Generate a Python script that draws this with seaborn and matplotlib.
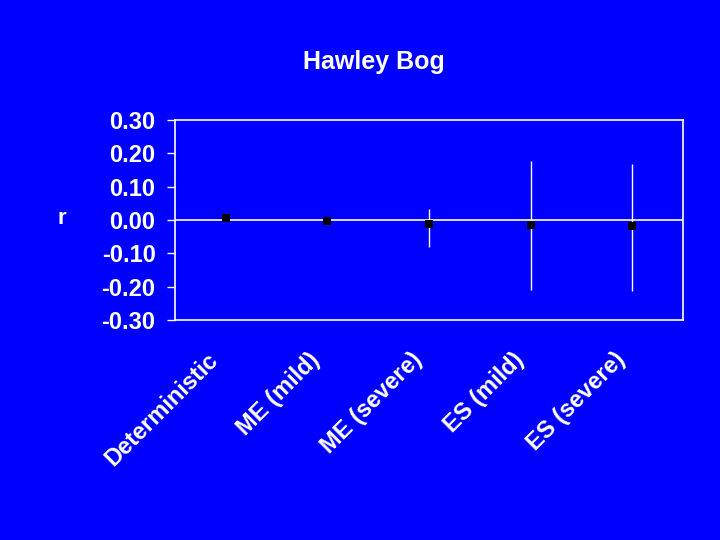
import numpy as np
import pandas as pd
import matplotlib
matplotlib.use("Agg")
import matplotlib.pyplot as plt
import matplotlib.transforms as mtransforms
import seaborn as sns

# values
models = ["Deterministic", "ME (mild)", "ME (severe)", "ES (mild)", "ES (severe)"]
r_mean = [0.005, -0.002, -0.011, -0.014, -0.017]
r_upper = [0.005, -0.002, 0.033, 0.177, 0.168]
r_lower = [0.005, -0.002, -0.080, -0.210, -0.213]
yticks = [-0.30, -0.20, -0.10, 0.00, 0.10, 0.20, 0.30]

sns.set_style("white")
plt.rcParams['font.family'] = ['Liberation Sans', 'DejaVu Sans']
plt.rcParams['axes.unicode_minus'] = False
blue = "#0000FF"

df = pd.DataFrame({"model": models, "r": r_mean, "hi": r_upper, "lo": r_lower})
df["x"] = np.arange(len(df))

fig = plt.figure(figsize=(7.2, 5.4), dpi=100, facecolor=blue)
ax = fig.add_axes([0.243, 0.407, 0.706, 0.371])
ax.set_facecolor(blue)

ax.errorbar(df["x"], df["r"], yerr=[df["r"] - df["lo"], df["hi"] - df["r"]],
            fmt="none", ecolor="white", elinewidth=1.0, capsize=0, zorder=2)
ax.axhline(0, color="white", lw=1.2, zorder=1)
sns.scatterplot(data=df, x="x", y="r", marker="s", color="black", s=35,
                edgecolor="black", linewidth=0, ax=ax, zorder=3)

ax.set_xlim(-0.5, len(models) - 0.5)
ax.set_ylim(-0.30, 0.30)
ax.set_yticks(yticks)
ax.set_yticklabels([f"{v:.2f}" for v in yticks], fontsize=17, fontweight="bold", color="white")
ax.set_xticks(df["x"])
ax.set_xticklabels([])
ax.tick_params(axis="y", direction="out", length=6, width=1, color="white", pad=8, left=True)
ax.tick_params(axis="x", length=0)
ax.set_xlabel("")
ax.set_ylabel("")
for sp in ax.spines.values():
    sp.set_color("white")
    sp.set_linewidth(1.2)

# slanted category labels, placed below each category position
trans = mtransforms.blended_transform_factory(ax.transData, ax.transAxes)
trans = trans + mtransforms.ScaledTranslation(-0.19, -0.28, fig.dpi_scale_trans)
for xi, name in zip(df["x"], df["model"]):
    ax.text(xi, 0, name, transform=trans, rotation=45, ha="right", va="top",
            rotation_mode="anchor", fontsize=17, fontweight="bold", color="white")

fig.text(0.086, 0.595, "r", fontsize=16, fontweight="bold", color="white", ha="center", va="center")
fig.text(0.519, 0.885, "Hawley Bog", fontsize=18, fontweight="bold", color="white", ha="center", va="center")

fig.savefig("out.png", dpi=100, facecolor=blue)
